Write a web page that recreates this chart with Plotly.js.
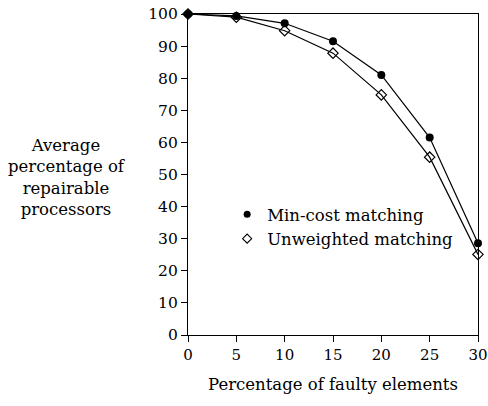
<!DOCTYPE html>
<html><head><meta charset="utf-8">
<script src="https://cdn.plot.ly/plotly-3.0.1.min.js"></script>
<style>body{margin:0;background:#fff}#c{width:488px;height:406px}</style>
</head><body><div id="c"></div>
<script>
const faulty = [0, 5, 10, 15, 20, 25, 30];
const minCost = [100, 99.4, 97.1, 91.5, 81, 61.5, 28.6];
const unweighted = [100, 99, 94.8, 87.8, 74.8, 55.4, 25.1];
const xTicks = [0, 5, 10, 15, 20, 25, 30];
const yTicks = [0, 10, 20, 30, 40, 50, 60, 70, 80, 90, 100];
const F = "'DejaVu Serif', 'Liberation Serif', serif";
const traces = [
  {x: faulty, y: minCost, mode: 'lines+markers', showlegend: false, cliponaxis: false,
   line: {color: '#000', width: 1.2}, marker: {symbol: 'circle', size: 8, color: '#000'}},
  {x: faulty, y: unweighted, mode: 'lines+markers', showlegend: false, cliponaxis: false,
   line: {color: '#000', width: 1.2}, marker: {symbol: 'diamond-open', size: 8, color: '#000', line: {width: 1.2}}},
  {x: [null], y: [null], mode: 'markers', name: 'Min-cost matching',
   marker: {symbol: 'circle', size: 7, color: '#000'}},
  {x: [null], y: [null], mode: 'markers', name: 'Unweighted matching',
   marker: {symbol: 'diamond-open', size: 7, color: '#000', line: {width: 1.1}}}
];
const layout = {
  width: 488, height: 406,
  margin: {l: 188, r: 10, t: 14, b: 71},
  paper_bgcolor: '#fff', plot_bgcolor: '#fff',
  font: {family: F, size: 15, color: '#000'},
  xaxis: {range: [0, 30], tickvals: xTicks, ticks: 'outside', ticklen: 6, tickcolor: '#000',
          showline: true, linecolor: '#000', linewidth: 1.2, mirror: true, showgrid: false, zeroline: false,
          tickfont: {family: F, size: 15},
          title: {text: 'Percentage of faulty elements', font: {family: F, size: 16.5}, standoff: 15}},
  yaxis: {range: [0, 100], tickvals: yTicks, ticks: 'outside', ticklen: 6, tickcolor: '#000',
          showline: true, linecolor: '#000', linewidth: 1.2, mirror: true, showgrid: false, zeroline: false,
          tickfont: {family: F, size: 15.5}},
  legend: {x: 0.135, y: 0.43, xanchor: 'left', yanchor: 'top', bgcolor: 'rgba(0,0,0,0)',
           font: {family: F, size: 16.5}, itemwidth: 30, tracegroupgap: 0},
  annotations: [{xref: 'paper', yref: 'paper', x: -0.418, y: 0.49, xanchor: 'center', yanchor: 'middle',
    showarrow: false, align: 'center', font: {family: F, size: 16.5},
    text: 'Average<br>percentage of<br>repairable<br>processors'}]
};
Plotly.newPlot('c', traces, layout, {displayModeBar: false});
</script></body></html>
